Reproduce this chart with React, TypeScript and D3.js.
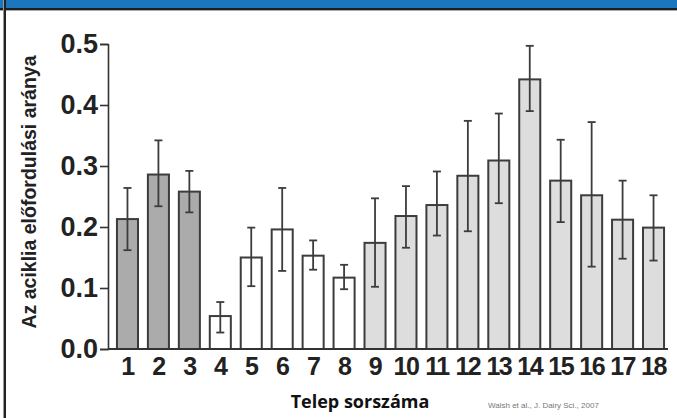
import React, { useEffect, useRef } from 'react'
import * as d3 from 'd3'

// telep (farm) numbers and mean proportion of acyclic cows, with error bar ends
const farms = ['1', '2', '3', '4', '5', '6', '7', '8', '9', '10', '11', '12', '13', '14', '15', '16', '17', '18']
const means = [0.213, 0.286, 0.258, 0.054, 0.150, 0.196, 0.153, 0.117, 0.174, 0.218, 0.236, 0.284, 0.309, 0.442, 0.276, 0.252, 0.212, 0.199]
const upper = [0.264, 0.342, 0.292, 0.077, 0.199, 0.264, 0.178, 0.138, 0.247, 0.267, 0.291, 0.374, 0.386, 0.497, 0.343, 0.372, 0.276, 0.252]
const lower = [0.162, 0.234, 0.224, 0.027, 0.103, 0.128, 0.130, 0.098, 0.102, 0.166, 0.186, 0.193, 0.239, 0.390, 0.208, 0.135, 0.148, 0.145]
const groups = ['dark', 'dark', 'dark', 'white', 'white', 'white', 'white', 'white', 'light', 'light', 'light', 'light', 'light', 'light', 'light', 'light', 'light', 'light']
const yTicks = [0, 0.1, 0.2, 0.3, 0.4, 0.5]

const fills: { [k: string]: string } = { dark: '#ababab', white: '#ffffff', light: '#dddddd' }

export default function App() {
  const ref = useRef<SVGSVGElement | null>(null)

  useEffect(() => {
    const svg = d3.select(ref.current)
    svg.selectAll('*').remove()

    const width = 677, height = 418
    const left = 108, right = 669, top = 44, bottom = 349

    // slide frame
    svg.append('rect').attr('width', width).attr('height', height).attr('fill', '#fff')
    svg.append('rect').attr('x', 0).attr('y', 0).attr('width', width).attr('height', 8).attr('fill', '#1b76be')
    svg.append('rect').attr('x', 0).attr('y', 8).attr('width', width).attr('height', 2).attr('fill', '#1e1e1e')
    svg.append('rect').attr('x', 0).attr('y', 10).attr('width', width).attr('height', 1).attr('fill', '#aaa')
    svg.append('rect').attr('x', 4).attr('y', 0).attr('width', 2).attr('height', height).attr('fill', '#222')
    svg.append('rect').attr('x', 3).attr('y', 0).attr('width', 1).attr('height', height).attr('fill', '#999')

    const x = d3.scaleBand().domain(farms).range([112, right]).paddingInner(0.32).paddingOuter(0.16)
    const y = d3.scaleLinear().domain([0, 0.5]).range([bottom, top])

    const g = svg.append('g')

    // bars
    g.selectAll('.bar')
      .data(farms)
      .enter().append('rect')
        .attr('class', 'bar')
        .attr('x', d => x(d)!)
        .attr('y', (d, i) => y(means[i]))
        .attr('width', x.bandwidth())
        .attr('height', (d, i) => y(0) - y(means[i]))
        .attr('fill', (d, i) => fills[groups[i]])
        .attr('stroke', '#3c3c3c')
        .attr('stroke-width', 2)

    // error bars
    const cap = 4
    const err = g.selectAll('.err').data(farms).enter().append('g').attr('class', 'err')
      .attr('stroke', '#3c3c3c').attr('stroke-width', 1.8)
    err.append('line')
      .attr('x1', d => x(d)! + x.bandwidth() / 2).attr('x2', d => x(d)! + x.bandwidth() / 2)
      .attr('y1', (d, i) => y(upper[i])).attr('y2', (d, i) => y(lower[i]))
    err.append('line')
      .attr('x1', d => x(d)! + x.bandwidth() / 2 - cap).attr('x2', d => x(d)! + x.bandwidth() / 2 + cap)
      .attr('y1', (d, i) => y(upper[i])).attr('y2', (d, i) => y(upper[i]))
    err.append('line')
      .attr('x1', d => x(d)! + x.bandwidth() / 2 - cap).attr('x2', d => x(d)! + x.bandwidth() / 2 + cap)
      .attr('y1', (d, i) => y(lower[i])).attr('y2', (d, i) => y(lower[i]))

    // y axis
    const ya = g.append('g')
      .attr('transform', 'translate(' + left + ',0)')
      .call(d3.axisLeft(y).tickValues(yTicks).tickFormat(d3.format('.1f')).tickSize(8).tickPadding(2))
    ya.select('.domain').attr('stroke', '#333').attr('stroke-width', 1.6)
    ya.selectAll('.tick line').attr('stroke', '#333').attr('stroke-width', 1.6)
    ya.selectAll('.tick text')
      .attr('fill', '#222')
      .attr('font-family', 'Liberation Sans, Arial, sans-serif')
      .attr('font-weight', 'bold')
      .attr('font-size', 27)

    // x axis
    const xa = g.append('g')
      .attr('transform', 'translate(0,' + bottom + ')')
      .call(d3.axisBottom(x).tickSize(0).tickPadding(8))
    xa.select('.domain').attr('stroke', '#333').attr('stroke-width', 1.8)
      .attr('d', 'M' + left + ',0H' + (right - 1))
    xa.selectAll('.tick text')
      .attr('fill', '#222')
      .attr('font-family', 'Liberation Sans, Arial, sans-serif')
      .attr('font-weight', 'bold')
      .attr('font-size', 25)
      .attr('letter-spacing', -1.5)

    // titles
    svg.append('text')
      .attr('transform', 'translate(36,' + 192 + ') rotate(-90)')
      .attr('text-anchor', 'middle')
      .attr('font-family', 'Liberation Sans, Arial, sans-serif')
      .attr('font-weight', 'bold')
      .attr('font-size', 19.5)
      .attr('fill', '#222')
      .text('Az aciklia előfordulási aránya')

    svg.append('text')
      .attr('x', 360).attr('y', 408)
      .attr('text-anchor', 'middle')
      .attr('font-family', 'Open Sans, Liberation Sans, sans-serif')
      .attr('font-weight', 'bold')
      .attr('font-size', 18)
      .attr('fill', '#111')
      .text('Telep sorszáma')

    svg.append('text')
      .attr('x', 488).attr('y', 408)
      .attr('font-family', 'Liberation Sans, Arial, sans-serif')
      .attr('font-size', 8)
      .attr('fill', '#777')
      .text('Walsh et al., J. Dairy Sci., 2007')
  }, [])

  return (
    <svg ref={ref} width={677} height={418} style={{ position: 'absolute', left: 0, top: 0, display: 'block' }} />
  )
}
